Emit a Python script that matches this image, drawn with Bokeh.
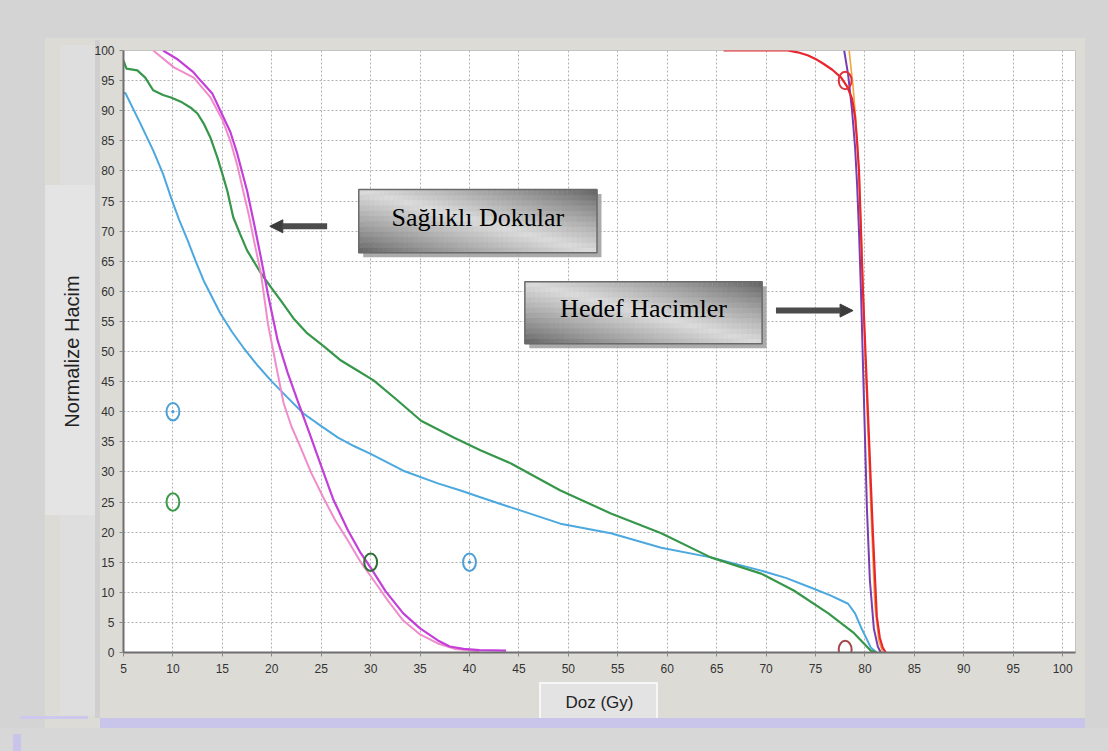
from bokeh.plotting import figure
from bokeh.models import (Range1d, FixedTicker, BoxAnnotation, Label, Arrow, NormalHead,
                          ColumnDataSource, InlineStyleSheet)
from bokeh.embed import file_html
from bokeh.resources import INLINE

# ---------------- data ----------------
x_ticks = list(range(5, 101, 5))
y_ticks = list(range(0, 101, 5))

# healthy tissues (OAR) DVH curves: dose (Gy), normalized volume (%)
blue_dose = [5.0, 5.2, 6.7, 8.0, 9.0, 9.8, 10.6, 11.5, 12.3, 13.1, 14.8, 16.0, 17.1, 18.5, 19.9,
             21.5, 23.2, 25.0, 26.7, 28.3, 30.0, 33.3, 36.8, 39.1, 41.1, 44.2, 49.2, 54.3, 59.4,
             64.4, 69.5, 72.0, 74.5, 76.5, 78.3, 79.0, 79.6, 80.6, 81.2]
blue_vol = [93.0, 92.9, 87.9, 83.4, 79.5, 75.6, 72.0, 68.4, 65.0, 61.8, 56.3, 53.2, 50.7, 47.8, 45.2,
            42.5, 39.7, 37.6, 35.7, 34.3, 33.0, 30.2, 28.1, 26.9, 25.8, 24.1, 21.4, 19.8, 17.4,
            15.8, 13.6, 12.4, 10.8, 9.5, 8.1, 6.5, 4.2, 0.8, 0.0]

green_dose = [5.0, 5.3, 6.4, 7.2, 8.0, 9.0, 9.8, 10.8, 11.8, 12.5, 13.1, 13.8, 14.5, 15.0, 15.5,
              16.1, 16.8, 17.5, 18.9, 20.0, 20.9, 22.2, 23.6, 25.3, 27.0, 28.7, 30.3, 32.7, 35.1,
              38.4, 41.1, 44.2, 49.2, 54.3, 59.4, 64.4, 69.5, 72.8, 76.3, 78.9, 80.6, 81.2]
green_vol = [98.3, 97.0, 96.7, 95.5, 93.4, 92.6, 92.2, 91.5, 90.5, 89.5, 87.9, 85.5, 82.2, 79.5, 76.7,
             72.3, 69.5, 66.8, 63.0, 60.5, 58.5, 55.5, 53.0, 50.8, 48.5, 46.8, 45.2, 41.9, 38.5,
             35.7, 33.6, 31.4, 26.9, 23.1, 19.8, 15.8, 13.1, 10.3, 6.5, 3.2, 0.3, 0.0]

pink_dose = [8.0, 10.1, 12.1, 13.8, 15.0, 15.8, 16.5, 17.1, 17.7, 18.2, 18.9, 19.6, 20.6, 21.2,
             22.0, 22.9, 24.0, 25.2, 26.4, 27.7, 29.0, 30.3, 31.8, 33.3, 35.0, 36.8, 38.5, 41.0]
pink_vol = [100.0, 97.2, 95.5, 92.2, 88.5, 85.0, 81.0, 76.7, 72.5, 68.4, 63.0, 54.7, 46.3, 41.4,
            37.5, 34.1, 29.8, 25.8, 22.0, 18.6, 15.0, 12.0, 8.5, 5.3, 3.0, 1.5, 0.6, 0.2]

magenta_dose = [9.0, 10.5, 12.0, 12.8, 14.0, 14.8, 15.8, 16.5, 17.5, 18.2, 18.9, 19.6, 20.6, 21.6,
                22.6, 23.8, 24.9, 26.2, 27.7, 29.0, 30.0, 31.5, 33.3, 35.0, 36.8, 38.0, 39.4, 41.0, 43.7]
magenta_vol = [100.0, 98.5, 96.5, 95.0, 92.8, 90.0, 86.5, 82.9, 76.7, 71.3, 65.6, 59.6, 51.8, 46.5,
               41.9, 36.5, 31.4, 25.5, 20.3, 16.5, 14.1, 10.2, 6.5, 4.0, 2.0, 1.0, 0.6, 0.4, 0.3]

# target volumes
orange_dose = [78.4, 78.8, 79.1, 79.4, 79.7, 80.1, 80.6, 81.0, 81.4, 81.8]
orange_vol = [100.0, 94.0, 88.0, 80.0, 66.0, 46.0, 24.0, 8.0, 2.0, 0.0]

purple_dose = [77.9, 78.3, 78.7, 79.0, 79.2, 79.4, 79.6, 79.8, 80.0, 80.2, 80.5, 80.9, 81.3, 81.6]
purple_vol = [100.0, 96.0, 90.0, 84.0, 78.0, 70.0, 60.0, 48.0, 36.0, 24.0, 12.0, 4.0, 1.0, 0.0]

red_dose = [65.7, 70.0, 72.2, 73.2, 74.2, 75.0, 75.8, 76.7, 77.6, 78.2, 78.7, 79.0, 79.2, 79.4,
            79.8, 80.3, 80.8, 81.2, 81.5, 81.8, 82.1]
red_vol = [100.0, 100.0, 100.0, 99.7, 99.2, 98.6, 97.8, 96.8, 95.5, 94.0, 92.0, 89.0, 85.0, 80.0,
           60.0, 40.0, 20.0, 6.0, 2.5, 0.8, 0.0]

# constraint markers
blue_mark_dose = [10, 40]
blue_mark_vol = [40, 15]
green_mark_dose = [10, 30]
green_mark_vol = [25, 15]
green_mark_color = ["#3a9a47", "#2c6e34"]
red_mark_dose = [78, 78]
red_mark_vol = [95, 0.5]
red_mark_color = ["#e0303a", "#a04848"]

label_healthy = "Sağlıklı Dokular"
label_target = "Hedef Hacimler"

# ---------------- page decoration (CSS background behind the transparent canvas) ----------------
OUTER = "#d4d4d4"
PANEL = "#dddbd6"
DECOR = [  # (left, top, right, bottom, colour) in page pixels, topmost first
    (541, 684, 656, 718, "#e3e3e3"),
    (539, 682, 658, 718, "#f6f6f6"),
    (100, 718, 1085, 728, "#c8c4ea"),
    (20, 716, 88, 719, "#ccc8ee"),
    (13, 734, 21, 751, "#c8c4ea"),
    (95, 40, 100, 718, "#cfcfcf"),
    (60, 45, 95, 185, "#dedede"),
    (45, 185, 95, 515, "#e4e4e4"),
    (60, 515, 95, 715, "#dedede"),
    (0, 728, 1108, 751, "#d7d7d7"),
    (0, 0, 45, 751, OUTER),
    (1085, 0, 1108, 751, OUTER),
    (0, 0, 1108, 38, OUTER),
]
imgs = ", ".join(f"linear-gradient({c},{c})" for (_, _, _, _, c) in DECOR)
sizes = ", ".join(f"{r - l}px {b - t}px" for (l, t, r, b, _) in DECOR)
poss = ", ".join(f"{l}px {t}px" for (l, t, r, b, _) in DECOR)
css = (":host { background-color: %s; background-image: %s; background-size: %s; "
       "background-position: %s; background-repeat: no-repeat; }" % (PANEL, imgs, sizes, poss))

# ---------------- figure ----------------
p = figure(width=1108, height=751, x_range=Range1d(5, 101.3), y_range=Range1d(0, 100),
           output_backend="svg", toolbar_location=None,
           min_border_left=123, min_border_right=33, min_border_top=50, min_border_bottom=99,
           border_fill_color=None, background_fill_color="white",
           outline_line_color="#c4c4c4",
           stylesheets=[InlineStyleSheet(css=css)])

# axes
p.xaxis.ticker = FixedTicker(ticks=x_ticks)
p.yaxis.ticker = FixedTicker(ticks=y_ticks)
p.xgrid.ticker = FixedTicker(ticks=x_ticks)
p.ygrid.ticker = FixedTicker(ticks=y_ticks)
for ax in (p.xaxis[0], p.yaxis[0]):
    ax.axis_line_color = "#6e6e6e"
    ax.axis_line_width = 2
    ax.major_tick_line_color = "#8a8a8a"
    ax.major_tick_out = 4
    ax.major_tick_in = 0
    ax.minor_tick_line_color = None
    ax.major_label_text_font = "Liberation Sans"
    ax.major_label_text_font_size = "12px"
    ax.major_label_text_color = "#333333"
    ax.axis_label_text_font = "Liberation Sans"
    ax.axis_label_text_font_style = "normal"
    ax.axis_label_text_color = "#222222"
p.xaxis.major_label_standoff = 7
p.yaxis.major_label_standoff = 5
p.yaxis.axis_label = "Normalize Hacim"
p.yaxis.axis_label_text_font_size = "20px"
p.yaxis.axis_label_standoff = 8
p.xaxis.axis_label = "Doz (Gy)"
p.xaxis.axis_label_text_font_size = "17px"
p.xaxis.axis_label_standoff = 17

for g in (p.xgrid[0], p.ygrid[0]):
    g.grid_line_color = "#b0b0b0"
    g.grid_line_dash = "2 2"
    g.grid_line_width = 1

# callout boxes (shadow + diagonal grey gradient made of small cells)
BOX1 = dict(left=28.8, right=52.9, bottom=66.4, top=76.9)
BOX2 = dict(left=45.6, right=69.6, bottom=51.3, top=61.6)
NCOL, NROW = 48, 12
cells = dict(l=[], r=[], b=[], t=[], c=[])
for bx in (BOX1, BOX2):
    p.quad(left=bx["left"] + 0.45, right=bx["right"] + 0.45, bottom=bx["bottom"] - 0.75,
           top=bx["top"] - 0.75, fill_color="#9c9c9c", fill_alpha=0.85, line_color=None)
    dx = (bx["right"] - bx["left"]) / NCOL
    dy = (bx["top"] - bx["bottom"]) / NROW
    for i in range(NCOL):
        for j in range(NROW):
            u = (i + 0.5) / NCOL
            w = 1 - (j + 0.5) / NROW
            t = (u + 1 - w) / 2
            k = 1 - abs(2 * t - 1)
            g = int(0x5e + (0xdc - 0x5e) * k ** 0.8)
            cells["l"].append(bx["left"] + i * dx)
            cells["r"].append(bx["left"] + (i + 1) * dx)
            cells["b"].append(bx["bottom"] + j * dy)
            cells["t"].append(bx["bottom"] + (j + 1) * dy)
            cells["c"].append("#%02x%02x%02x" % (g, g, g))
p.quad(left="l", right="r", bottom="b", top="t", fill_color="c", line_color="c", line_width=0.5,
       source=ColumnDataSource(cells))
for bx in (BOX1, BOX2):
    p.add_layout(BoxAnnotation(fill_color=None, fill_alpha=0.0, line_color="#6a6a6a",
                               line_alpha=1.0, line_width=1.5, line_dash="solid", **bx))

# curves
p.line(blue_dose, blue_vol, line_color="#4ca8de", line_width=2)
p.line(green_dose, green_vol, line_color="#36974a", line_width=2.2)
p.line(pink_dose, pink_vol, line_color="#f08ccc", line_width=2)
p.line(magenta_dose, magenta_vol, line_color="#c23fd8", line_width=2.2)
p.line(orange_dose, orange_vol, line_color="#f2a33a", line_width=1.6)
p.line(purple_dose, purple_vol, line_color="#7a3cb0", line_width=2)
p.line(red_dose, red_vol, line_color="#e8262e", line_width=2.2)

# constraint markers
p.ellipse(blue_mark_dose, blue_mark_vol, width=1.3, height=2.9, fill_color=None,
          line_color="#4d9fd6", line_width=2)
p.scatter(blue_mark_dose, blue_mark_vol, size=2.5, color="#4d9fd6")
p.ellipse(x="x", y="y", line_color="c",
          source=ColumnDataSource(dict(x=green_mark_dose, y=green_mark_vol, c=green_mark_color)),
          width=1.3, height=2.9, fill_color=None, line_width=2)
p.ellipse(x="x", y="y", line_color="c",
          source=ColumnDataSource(dict(x=red_mark_dose, y=red_mark_vol, c=red_mark_color)),
          width=1.3, height=2.9, fill_color=None, line_width=2)

# callout texts
p.add_layout(Label(x=(BOX1["left"] + BOX1["right"]) / 2, y=72.3, text=label_healthy,
                   text_font="Liberation Serif", text_font_size="26px", text_color="black",
                   text_align="center", text_baseline="middle"))
p.add_layout(Label(x=(BOX2["left"] + BOX2["right"]) / 2, y=57.2, text=label_target,
                   text_font="Liberation Serif", text_font_size="26px", text_color="black",
                   text_align="center", text_baseline="middle"))

# arrows
p.add_layout(Arrow(end=NormalHead(size=13, fill_color="#3c3c3c", line_color="#3c3c3c"),
                   x_start=25.6, y_start=70.8, x_end=19.8, y_end=70.8,
                   line_color="#4c4c4c", line_width=6))
p.add_layout(Arrow(end=NormalHead(size=13, fill_color="#3c3c3c", line_color="#3c3c3c"),
                   x_start=71.0, y_start=56.8, x_end=78.8, y_end=56.8,
                   line_color="#4c4c4c", line_width=6))

open("out.html", "w").write(file_html(p, INLINE))
